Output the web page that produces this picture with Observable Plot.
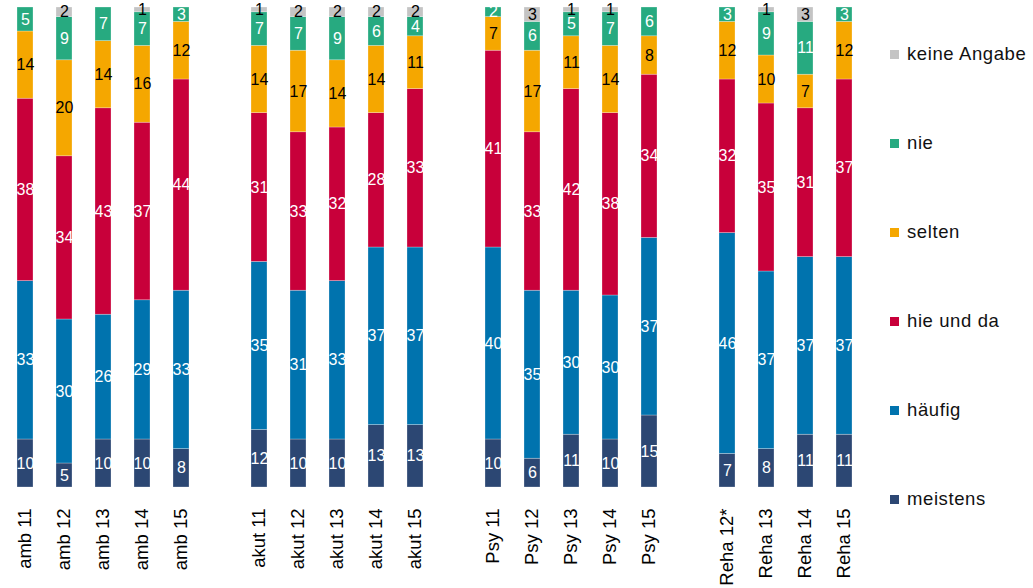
<!DOCTYPE html>
<html><head><meta charset="utf-8">
<script src="https://cdn.jsdelivr.net/npm/d3@7"></script>
<script src="https://cdn.jsdelivr.net/npm/@observablehq/plot@0.6"></script>
<style>
body{margin:0;background:#fff;font-family:"Liberation Sans",Arial,sans-serif;}
#wrap{position:relative;width:1033px;height:588px;overflow:hidden;}
.li{position:absolute;left:890px;height:20px;display:flex;align-items:center;font-size:18.5px;letter-spacing:0.6px;color:#111;white-space:nowrap;}
.sw{width:9px;height:9px;margin-right:8px;flex:none;}
</style></head><body><div id="wrap"></div>
<script>
// Categories (bars) with group gaps
const categories = ["amb 11","amb 12","amb 13","amb 14","amb 15",
  "akut 11","akut 12","akut 13","akut 14","akut 15",
  "Psy 11","Psy 12","Psy 13","Psy 14","Psy 15",
  "Reha 12*","Reha 13","Reha 14","Reha 15"];
const xDomain = ["amb 11","amb 12","amb 13","amb 14","amb 15","gap1",
  "akut 11","akut 12","akut 13","akut 14","akut 15","gap2",
  "Psy 11","Psy 12","Psy 13","Psy 14","Psy 15","gap3",
  "Reha 12*","Reha 13","Reha 14","Reha 15"];

// Response levels (bottom to top)
const levels = ["meistens","häufig","hie und da","selten","nie","keine Angabe"];
const colors = ["#2C4773","#0073AE","#C8003A","#F5A700","#27AA80","#C4C4C4"];
const labelColors = ["white","white","white","black","white","black"];

// Series values (%)
const meistens    = [10,5,10,10,8, 12,10,10,13,13, 10,6,11,10,15, 7,8,11,11];
const haeufig     = [33,30,26,29,33, 35,31,33,37,37, 40,35,30,30,37, 46,37,37,37];
const hieUndDa    = [38,34,43,37,44, 31,33,32,28,33, 41,33,42,38,34, 32,35,31,37];
const selten      = [14,20,14,16,12, 14,17,14,14,11, 7,17,11,14,8, 12,10,7,12];
const nie         = [5,9,7,7,3, 7,7,9,6,4, 2,6,5,7,6, 3,9,11,3];
const keineAngabe = [0,2,0,1,0, 1,2,2,2,2, 0,3,1,1,0, 0,1,3,0];

const series = [meistens, haeufig, hieUndDa, selten, nie, keineAngabe];
const data = [];
categories.forEach((c, i) => {
  levels.forEach((l, j) => data.push({cat: c, level: l, value: series[j][i], lc: labelColors[j]}));
});

const chart = Plot.plot({
  width: 1033,
  height: 588,
  marginTop: 7,
  marginBottom: 101,
  marginLeft: 3,
  marginRight: 168,
  style: {fontFamily: "'Liberation Sans', Arial, sans-serif", background: "white"},
  x: {domain: xDomain, paddingInner: 0.6, paddingOuter: 0.2, label: null,
      tickFormat: d => d.startsWith("gap") ? "" : d},
  y: {domain: [0, 100], axis: null},
  color: {domain: levels, range: colors},
  marks: [
    Plot.barY(data, Plot.stackY({x: "cat", y: "value", fill: "level", stroke: "white", strokeOpacity: 0.45, strokeWidth: 0.6})),
    Plot.text(data, Plot.stackY({x: "cat", y: "value", z: "level",
      text: d => (d.value > 0 && d.lc === "white") ? String(d.value) : null,
      fill: "white", fontSize: 16})),
    Plot.text(data, Plot.stackY({x: "cat", y: "value", z: "level",
      text: d => (d.value > 0 && d.lc === "black") ? String(d.value) : null,
      fill: "black", fontSize: 16})),
    Plot.axisX({tickSize: 0, tickRotate: -90, tickPadding: 21, fontSize: 18.5, fill: "black",
      tickFormat: d => d.startsWith("gap") ? "" : d, label: null})
  ]
});
const wrap = document.getElementById("wrap");
wrap.appendChild(chart);
chart.style.position = "absolute";
chart.style.left = "0";
chart.style.top = "0";

// Legend (top to bottom)
const legendY = [54, 143, 232, 321, 410, 499];
const legendOrder = ["keine Angabe","nie","selten","hie und da","häufig","meistens"];
legendOrder.forEach((l, k) => {
  const d = document.createElement("div");
  d.className = "li";
  d.style.top = (legendY[k] - 10) + "px";
  const s = document.createElement("span");
  s.className = "sw";
  s.style.background = colors[levels.indexOf(l)];
  d.appendChild(s);
  d.appendChild(document.createTextNode(l));
  wrap.appendChild(d);
});
</script></body></html>
